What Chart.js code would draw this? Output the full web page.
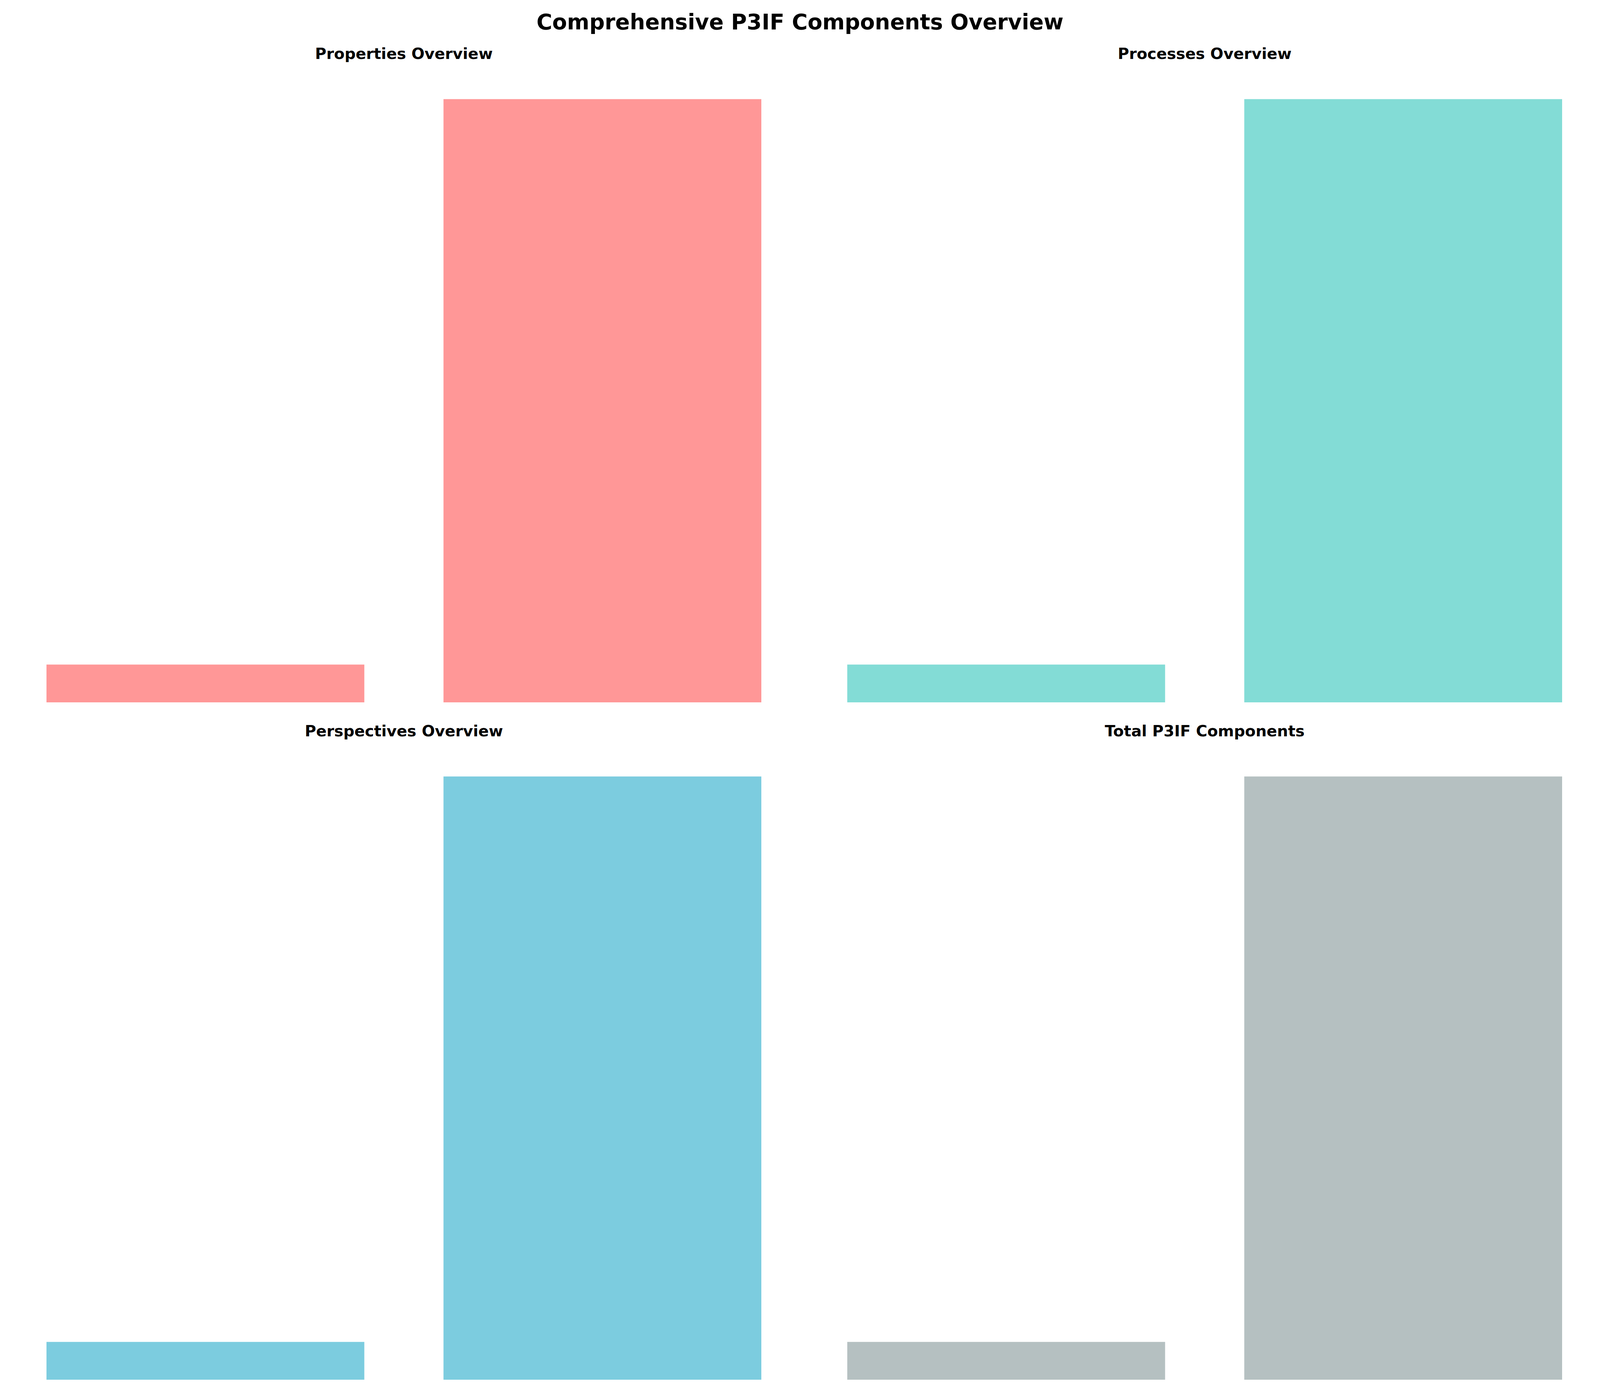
<!DOCTYPE html>
<html>
<head>
<meta charset="utf-8">
<script src="https://cdn.jsdelivr.net/npm/chart.js@4.4.0/dist/chart.umd.min.js"></script>
<style>
  html, body { margin: 0; background: #fff; width: 100%; height: 100%; overflow: hidden; font-family: "DejaVu Sans", sans-serif; }
  body { position: relative; }
  .t { position: absolute; transform: translate(-50%, -50%); font-weight: bold; white-space: nowrap; color: #000; }
  canvas { position: absolute; }
</style>
</head>
<body>
<script>
// data (y axis hidden, values are relative)
const categories = ["Count A", "Count B"]
const propertiesValues = [1, 16]
const processesValues = [1, 16]
const perspectivesValues = [1, 16]
const totalValues = [3, 48]
const titles = ["Properties Overview", "Processes Overview", "Perspectives Overview", "Total P3IF Components"]
const colors = ["rgba(255,107,107,0.7)", "rgba(78,205,196,0.7)", "rgba(69,183,209,0.7)", "rgba(149,165,166,0.7)"]

// layout as fractions of the page, so it fits whatever viewport we get
const VW = window.innerWidth, VH = window.innerHeight
const sx = VW / 4770, sy = VH / 3543
const panels = [
  { values: propertiesValues, left: 138, top: 177 },
  { values: processesValues, left: 2526, top: 177 },
  { values: perspectivesValues, left: 138, top: 1911 },
  { values: totalValues, left: 2526, top: 1911 },
]
const W = Math.round(2131 * sx), H = Math.round(1621 * sy)

const main = document.createElement("div")
main.className = "t"
main.style.cssText = `left:${VW / 2}px;top:${56 * sy}px;font-size:${64 * sx}px`
main.textContent = "Comprehensive P3IF Components Overview"
document.body.appendChild(main)

panels.forEach((p, i) => {
  const L = Math.round(p.left * sx), T = Math.round(p.top * sy)
  const t = document.createElement("div")
  t.className = "t"
  t.style.cssText = `left:${L + W / 2}px;top:${T - 40 * sy}px;font-size:${46 * sx}px`
  t.textContent = titles[i]
  document.body.appendChild(t)

  const c = document.createElement("canvas")
  c.width = W; c.height = H
  c.style.left = L + "px"; c.style.top = T + "px"
  document.body.appendChild(c)

  const max = Math.max(...p.values)
  new Chart(c, {
    type: "bar",
    data: {
      datasets: [{
        data: p.values.map((v, k) => ({ x: k, y: v })),
        backgroundColor: colors[i],
        barThickness: W / 1.8 * 0.8,
      }]
    },
    options: {
      responsive: false,
      animation: false,
      devicePixelRatio: 1,
      layout: { padding: 0 },
      plugins: { legend: { display: false }, tooltip: { enabled: false } },
      scales: {
        x: { type: "linear", min: -0.4, max: 1.4, display: false, offset: false },
        y: { min: 0, max: max * 1.05, display: false },
      },
    },
  })
})
</script>
</body>
</html>
